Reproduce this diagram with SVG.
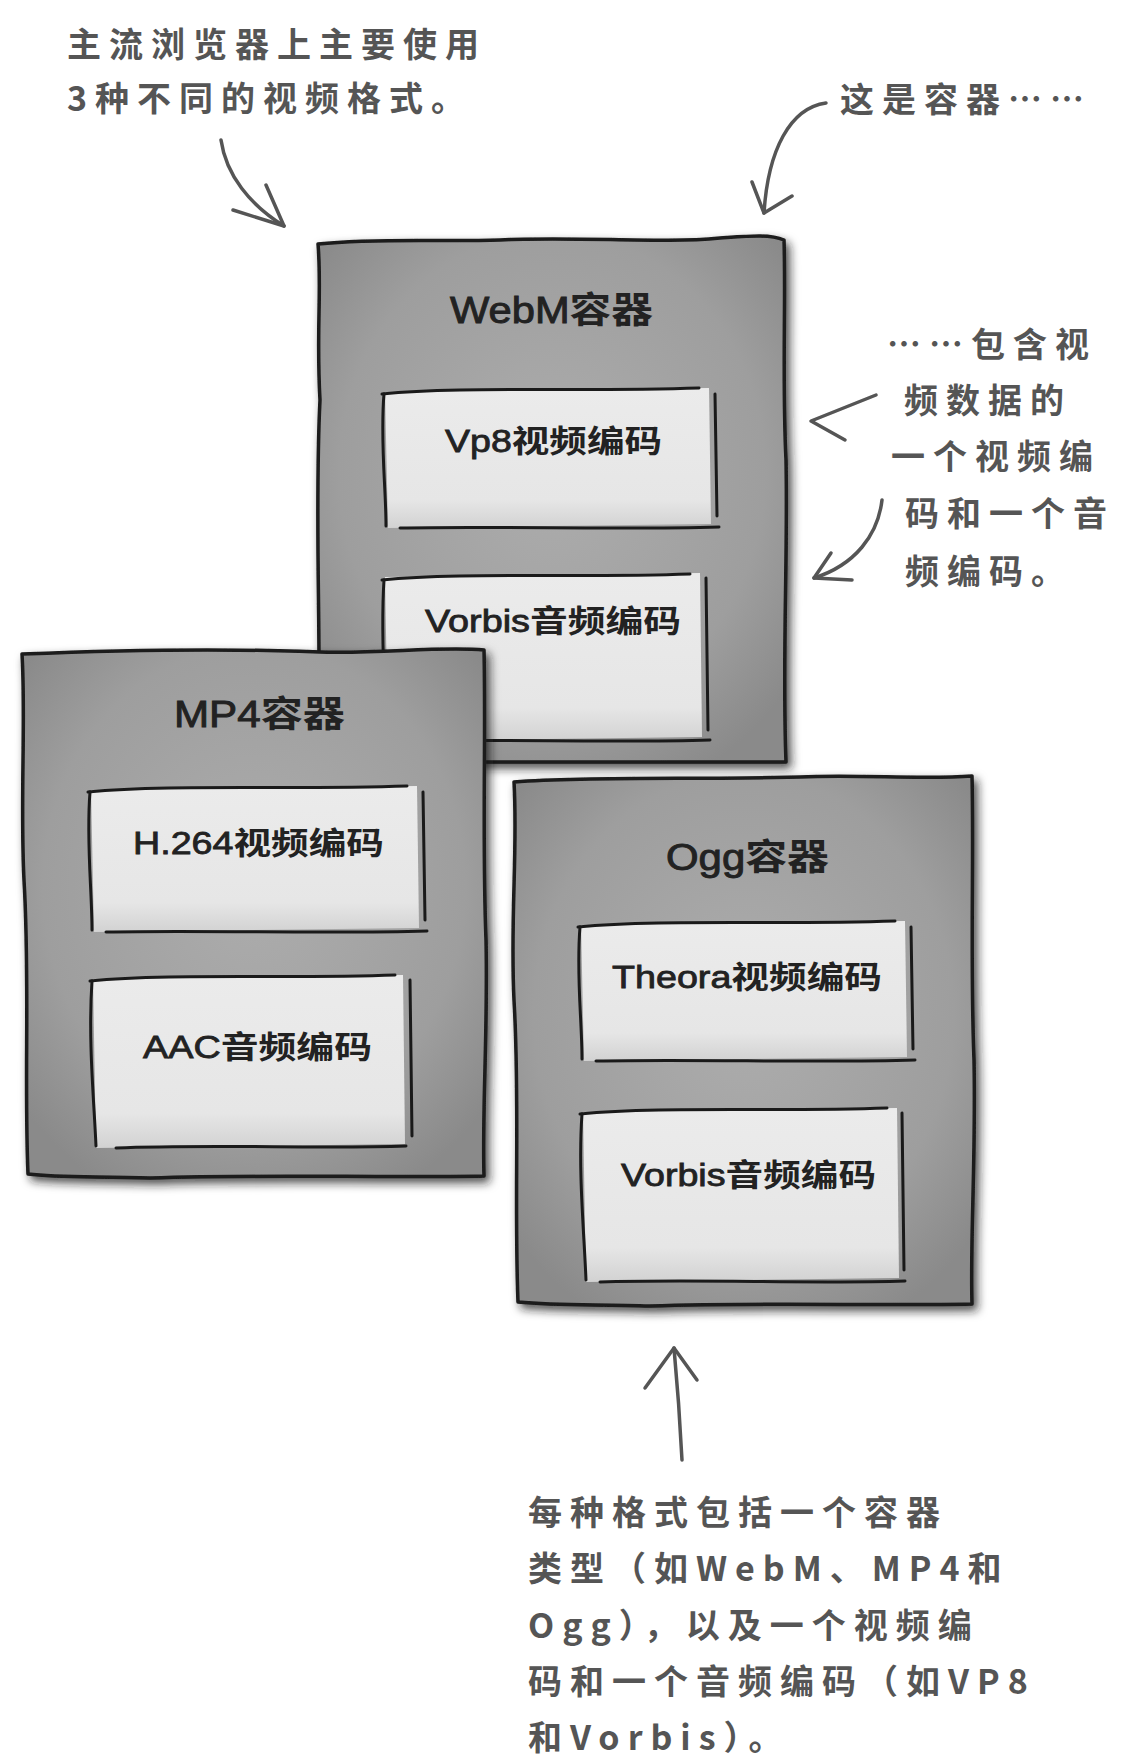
<svg xmlns="http://www.w3.org/2000/svg" width="1140" height="1761" viewBox="0 0 1140 1761">
<defs>
<radialGradient id="boxFill" cx="50%" cy="45%" r="65%">
<stop offset="0" stop-color="#adadad"/>
<stop offset="0.7" stop-color="#9e9e9e"/>
<stop offset="1" stop-color="#8a8a8a"/>
</radialGradient>
<linearGradient id="innerFill" x1="0" y1="0" x2="0" y2="1">
<stop offset="0" stop-color="#ebebeb"/>
<stop offset="0.8" stop-color="#e6e6e6"/>
<stop offset="1" stop-color="#d2d2d2"/>
</linearGradient>
<filter id="shadow" x="-10%" y="-10%" width="125%" height="125%">
<feDropShadow dx="4" dy="5" stdDeviation="5" flood-color="#1a1a1a" flood-opacity="0.75"/>
</filter>
</defs>
<style>
.outer{fill:url(#boxFill);stroke:#1a1a1a;stroke-width:3.5;stroke-linejoin:round;filter:url(#shadow)}
.inner{fill:url(#innerFill);stroke:none}
.edge{fill:none;stroke:#1a1a1a;stroke-width:3;stroke-linecap:round}
.title{font-family:"Liberation Sans","Noto Sans CJK SC",sans-serif;font-size:36px;fill:#222;stroke:#222;stroke-width:0.9px}
.label{font-family:"Liberation Sans","Noto Sans CJK SC",sans-serif;font-size:31px;fill:#222;stroke:#222;stroke-width:0.8px}
.cjk{font-family:"Noto Sans CJK SC",sans-serif;font-weight:bold;stroke:none}
.hand{font-family:"Noto Sans CJK SC",sans-serif;font-size:34px;font-weight:bold;fill:#555;letter-spacing:8px}
.arrow{fill:none;stroke:#555;stroke-width:3.5;stroke-linecap:round;stroke-linejoin:round}
</style>
<rect width="1140" height="1761" fill="#ffffff"/>

<g id="node-webm">
<path class="outer" d="M318,244 C380,238 440,242 500,240 C580,236 660,244 720,238 C750,236 770,234 784,240 C786,300 782,380 786,460 C788,560 782,660 786,762 L318,762 C322,640 314,520 320,400 C316,330 322,290 318,244 Z"/>
<text class="title" x="450" y="323" textLength="203" lengthAdjust="spacingAndGlyphs">WebM<tspan class="cjk">容器</tspan></text>
<g id="node-webm-vp8">
<path class="inner" d="M385,392 L709,388 L711,524 L388,528 Z"/>
<path class="edge" d="M382,394 C460,386 580,392 699,388"/>
<path class="edge" d="M384,394 C380,440 386,488 386,526"/>
<path class="edge" d="M400,528 C500,526 620,530 719,527"/>
<path class="edge" d="M715,394 L717,516"/>
<text class="label" x="445" y="452" textLength="217" lengthAdjust="spacingAndGlyphs">Vp8<tspan class="cjk">视频编码</tspan></text>
</g>
<g id="node-webm-vorbis">
<path class="inner" d="M385,577 L700,573 L702,737 L388,741 Z"/>
<path class="edge" d="M382,580 C460,572 580,578 690,574"/>
<path class="edge" d="M384,580 C380,640 386,700 386,739"/>
<path class="edge" d="M400,741 C500,739 620,743 710,740"/>
<path class="edge" d="M706,578 L708,730"/>
<text class="label" x="425" y="632" textLength="256" lengthAdjust="spacingAndGlyphs">Vorbis<tspan class="cjk">音频编码</tspan></text>
</g>
</g>

<g id="node-mp4">
<path class="outer" d="M22,654 C120,650 220,648 320,652 C380,654 440,646 484,650 C486,740 482,840 486,940 C488,1030 482,1110 484,1176 C380,1178 260,1174 150,1178 C100,1176 60,1178 28,1174 C24,1080 30,980 24,880 C20,800 26,720 22,654 Z"/>
<text class="title" x="174" y="727" textLength="171" lengthAdjust="spacingAndGlyphs">MP4<tspan class="cjk">容器</tspan></text>
<g id="node-mp4-h264">
<path class="inner" d="M91,790 L417,786 L419,928 L94,932 Z"/>
<path class="edge" d="M88,792 C170,784 290,790 407,786"/>
<path class="edge" d="M90,792 C86,840 92,890 92,930"/>
<path class="edge" d="M106,932 C210,930 330,934 427,931"/>
<path class="edge" d="M423,792 L425,920"/>
<text class="label" x="133" y="854" textLength="251" lengthAdjust="spacingAndGlyphs">H.264<tspan class="cjk">视频编码</tspan></text>
</g>
<g id="node-mp4-aac">
<path class="inner" d="M93,979 L403,975 L405,1144 L96,1148 Z"/>
<path class="edge" d="M90,981 C170,973 290,979 395,975"/>
<path class="edge" d="M92,981 C88,1040 94,1100 96,1146"/>
<path class="edge" d="M116,1148 C210,1144 320,1149 406,1146"/>
<path class="edge" d="M410,980 L412,1136"/>
<text class="label" x="143" y="1058" textLength="229" lengthAdjust="spacingAndGlyphs">AAC<tspan class="cjk">音频编码</tspan></text>
</g>
</g>

<g id="node-ogg">
<path class="outer" d="M514,782 C600,776 700,780 800,777 C860,774 920,780 972,776 C974,860 970,960 974,1060 C976,1160 970,1240 972,1304 C880,1306 760,1302 650,1306 C600,1304 560,1306 518,1302 C514,1200 520,1100 514,1000 C510,920 518,850 514,782 Z"/>
<text class="title" x="666" y="870" textLength="163" lengthAdjust="spacingAndGlyphs">Ogg<tspan class="cjk">容器</tspan></text>
<g id="node-ogg-theora">
<path class="inner" d="M581,925 L905,921 L907,1057 L584,1061 Z"/>
<path class="edge" d="M578,927 C660,919 780,925 895,921"/>
<path class="edge" d="M580,927 C576,975 582,1020 582,1059"/>
<path class="edge" d="M596,1061 C700,1059 820,1063 915,1060"/>
<path class="edge" d="M911,927 L913,1049"/>
<text class="label" x="612" y="988" textLength="270" lengthAdjust="spacingAndGlyphs">Theora<tspan class="cjk">视频编码</tspan></text>
</g>
<g id="node-ogg-vorbis">
<path class="inner" d="M583,1112 L897,1108 L899,1278 L586,1282 Z"/>
<path class="edge" d="M580,1114 C660,1106 780,1112 887,1108"/>
<path class="edge" d="M582,1114 C578,1170 584,1230 586,1280"/>
<path class="edge" d="M600,1282 C700,1279 810,1284 905,1281"/>
<path class="edge" d="M902,1113 L904,1270"/>
<text class="label" x="621" y="1186" textLength="255" lengthAdjust="spacingAndGlyphs">Vorbis<tspan class="cjk">音频编码</tspan></text>
</g>
</g>

<g id="connectors">
<path class="arrow" d="M221,140 C226,175 250,205 284,226"/>
<path class="arrow" d="M233,210 L284,226 L266,185"/>
<path class="arrow" d="M826,103 C790,108 768,150 764,213"/>
<path class="arrow" d="M752,182 L764,213 L792,196"/>
<path class="arrow" d="M876,395 L811,421 L845,440"/>
<path class="arrow" d="M882,500 C878,535 855,565 814,578"/>
<path class="arrow" d="M831,553 L814,578 L852,580"/>
<path class="arrow" d="M682,1460 C680,1420 677,1380 674,1348"/>
<path class="arrow" d="M645,1388 L674,1348 L697,1380"/>
</g>

<g id="note-formats">
<text class="hand" x="67" y="57">主流浏览器上主要使用</text>
<text class="hand" x="67" y="111">3种不同的视频格式。</text>
</g>
<g id="note-container">
<text class="hand" x="840" y="112">这是容器……</text>
</g>
<g id="note-codecs">
<text class="hand" x="887" y="357">……包含视</text>
<text class="hand" x="904" y="413">频数据的</text>
<text class="hand" x="891" y="469">一个视频编</text>
<text class="hand" x="905" y="526">码和一个音</text>
<text class="hand" x="905" y="584">频编码。</text>
</g>
<g id="note-summary">
<text class="hand" x="528" y="1525">每种格式包括一个容器</text>
<text class="hand" x="528" y="1581">类型（如WebM、MP4和</text>
<text class="hand" x="528" y="1638">Ogg），以及一个视频编</text>
<text class="hand" x="528" y="1694">码和一个音频编码（如VP8</text>
<text class="hand" x="528" y="1750">和Vorbis）。</text>
</g>
</svg>
